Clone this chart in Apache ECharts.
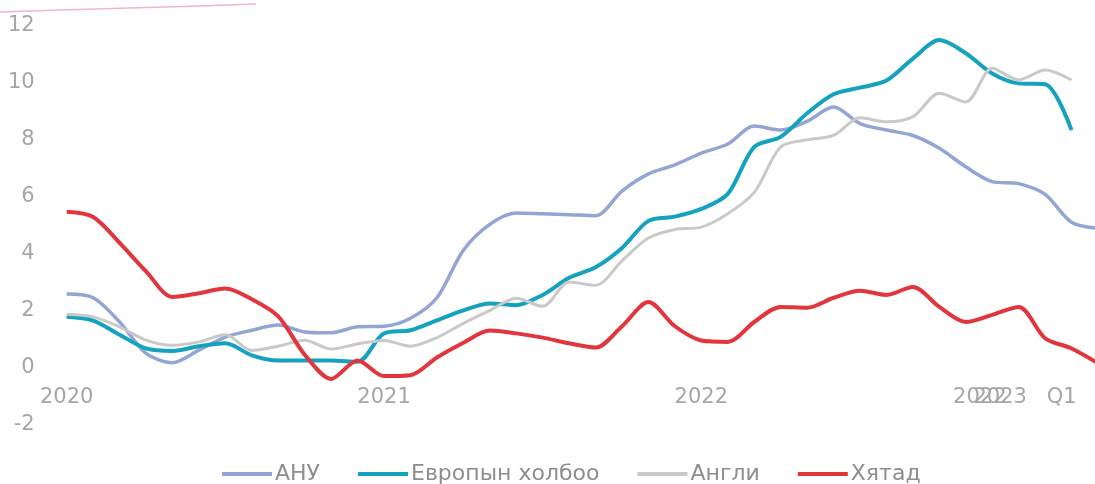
<!DOCTYPE html>
<html>
<head>
<meta charset="utf-8">
<script src="https://cdn.jsdelivr.net/npm/echarts@6/dist/echarts.min.js"></script>
<style>
html,body{margin:0;padding:0;background:#fff;}
#c{width:1095px;height:484px;}
</style>
</head>
<body>
<div id="c"></div>
<script>
// Monthly observations, Jan 2020 .. Apr 2023
const months = [
  '2020-01','2020-02','2020-03','2020-04','2020-05','2020-06','2020-07','2020-08','2020-09','2020-10','2020-11','2020-12',
  '2021-01','2021-02','2021-03','2021-04','2021-05','2021-06','2021-07','2021-08','2021-09','2021-10','2021-11','2021-12',
  '2022-01','2022-02','2022-03','2022-04','2022-05','2022-06','2022-07','2022-08','2022-09','2022-10','2022-11','2022-12',
  '2023-01','2023-02','2023-03','2023-04'
];

const seriesNames = ['АНУ', 'Европын холбоо', 'Англи', 'Хятад'];

const usa = [2.43, 2.3, 1.45, 0.35, 0.02, 0.46, 0.92, 1.16, 1.34, 1.1, 1.07, 1.28,
             1.3, 1.58, 2.3, 3.97, 4.88, 5.28, 5.25, 5.22, 5.18, 6.05, 6.65, 6.97,
             7.38, 7.7, 8.33, 8.19, 8.5, 9.0, 8.42, 8.19, 8.0, 7.55, 6.9, 6.38,
             6.31, 5.93, 4.95, 4.74];
const eu = [1.63, 1.5, 1.0, 0.52, 0.43, 0.6, 0.7, 0.28, 0.1, 0.1, 0.1, 0.05,
            1.05, 1.16, 1.51, 1.86, 2.1, 2.04, 2.4, 3.0, 3.37, 4.05, 5.0, 5.15,
            5.42, 5.95, 7.6, 7.95, 8.78, 9.45, 9.68, 9.93, 10.7, 11.35, 10.89, 10.18,
            9.83, 9.8, 8.19, null];
const uk = [1.72, 1.63, 1.28, 0.81, 0.63, 0.75, 1.0, 0.45, 0.6, 0.81, 0.5, 0.68,
            0.8, 0.6, 0.9, 1.4, 1.85, 2.28, 2.0, 2.85, 2.74, 3.6, 4.4, 4.7,
            4.78, 5.25, 6.0, 7.6, 7.85, 8.0, 8.62, 8.48, 8.66, 9.48, 9.18, 10.36,
            9.95, 10.3, 9.95, null];
const china = [5.32, 5.14, 4.23, 3.23, 2.33, 2.46, 2.63, 2.25, 1.65, 0.3, -0.55, 0.1,
               -0.45, -0.42, 0.2, 0.72, 1.15, 1.05, 0.9, 0.7, 0.55, 1.3, 2.15, 1.3,
               0.8, 0.75, 1.45, 1.98, 1.95, 2.3, 2.55, 2.4, 2.68, 1.98, 1.45, 1.7,
               1.98, 0.88, 0.52, 0.0];

// x tick labels (position in months from Jan 2020)
const xTickPos = [0, 12, 24, 34.53];
const xTickLabels = ['2020', '2021', '2022', '2022'];
const xTickPos2 = [35.3, 37.63];
const xTickLabels2 = ['2023', 'Q1'];

const yTicks = [-2, 0, 2, 4, 6, 8, 10, 12];

const colors = ['#93a6d3', '#15a2bf', '#c9c9c9', '#e2363f'];
const widths = [3.5, 4, 3, 4];

function toPairs(arr) {
  const out = [];
  arr.forEach((v, i) => { if (v !== null) out.push([i, v]); });
  return out;
}

const allData = [usa, eu, uk, china];
const FONT = '"DejaVu Sans", "Noto Sans", sans-serif';
const LABEL_COLOR = '#a6a6a6';

function makeXAxis(pos, labels) {
  return {
    type: 'value',
    position: 'bottom',
    min: 0,
    max: months.length - 1,
    offset: -56.9,
    axisLine: {show: false, onZero: false},
    axisTick: {show: false},
    splitLine: {show: false},
    axisLabel: {
      customValues: pos,
      hideOverlap: false,
      showMinLabel: true,
      showMaxLabel: true,
      formatter: function (v) {
        const k = pos.indexOf(v);
        return k >= 0 ? labels[k] : '';
      },
      margin: 24,
      color: LABEL_COLOR,
      fontSize: 21,
      fontFamily: FONT
    }
  };
}

const chart = echarts.init(document.getElementById('c'), null, {renderer: 'canvas'});
chart.setOption({
  animation: false,
  backgroundColor: '#ffffff',
  grid: {left: 66.7, right: -3, top: 21.6, bottom: 63.8, containLabel: false, outerBoundsMode: 'none'},
  xAxis: [makeXAxis(xTickPos, xTickLabels), makeXAxis(xTickPos2, xTickLabels2)],
  yAxis: {
    type: 'value',
    min: yTicks[0],
    max: yTicks[yTicks.length - 1],
    interval: 2,
    axisLine: {show: false},
    axisTick: {show: false},
    splitLine: {show: false},
    axisLabel: {
      margin: 32,
      verticalAlign: 'top',
      lineHeight: 8,
      color: LABEL_COLOR,
      fontSize: 21,
      fontFamily: FONT
    }
  },
  legend: {
    data: seriesNames,
    left: 217,
    top: 458,
    icon: 'rect',
    itemWidth: 50,
    itemHeight: 4,
    itemGap: 38,
    textStyle: {color: '#8e8e8e', fontSize: 22, fontFamily: FONT, padding: [0, 0, 0, -2]}
  },
  graphic: [{
    type: 'polyline',
    shape: {points: [[0, 12], [60, 10], [130, 8], [200, 6], [256, 4]]},
    style: {stroke: 'rgba(232,120,150,0.55)', lineWidth: 1.5, fill: null},
    silent: true
  }],
  series: seriesNames.map((name, k) => ({
    name: name,
    type: 'line',
    xAxisIndex: 0,
    data: toPairs(allData[k]),
    smooth: 0.3,
    symbol: 'none',
    showSymbol: false,
    clip: false,
    lineStyle: {color: colors[k], width: widths[k]},
    itemStyle: {color: colors[k]}
  }))
});
</script>
</body>
</html>
